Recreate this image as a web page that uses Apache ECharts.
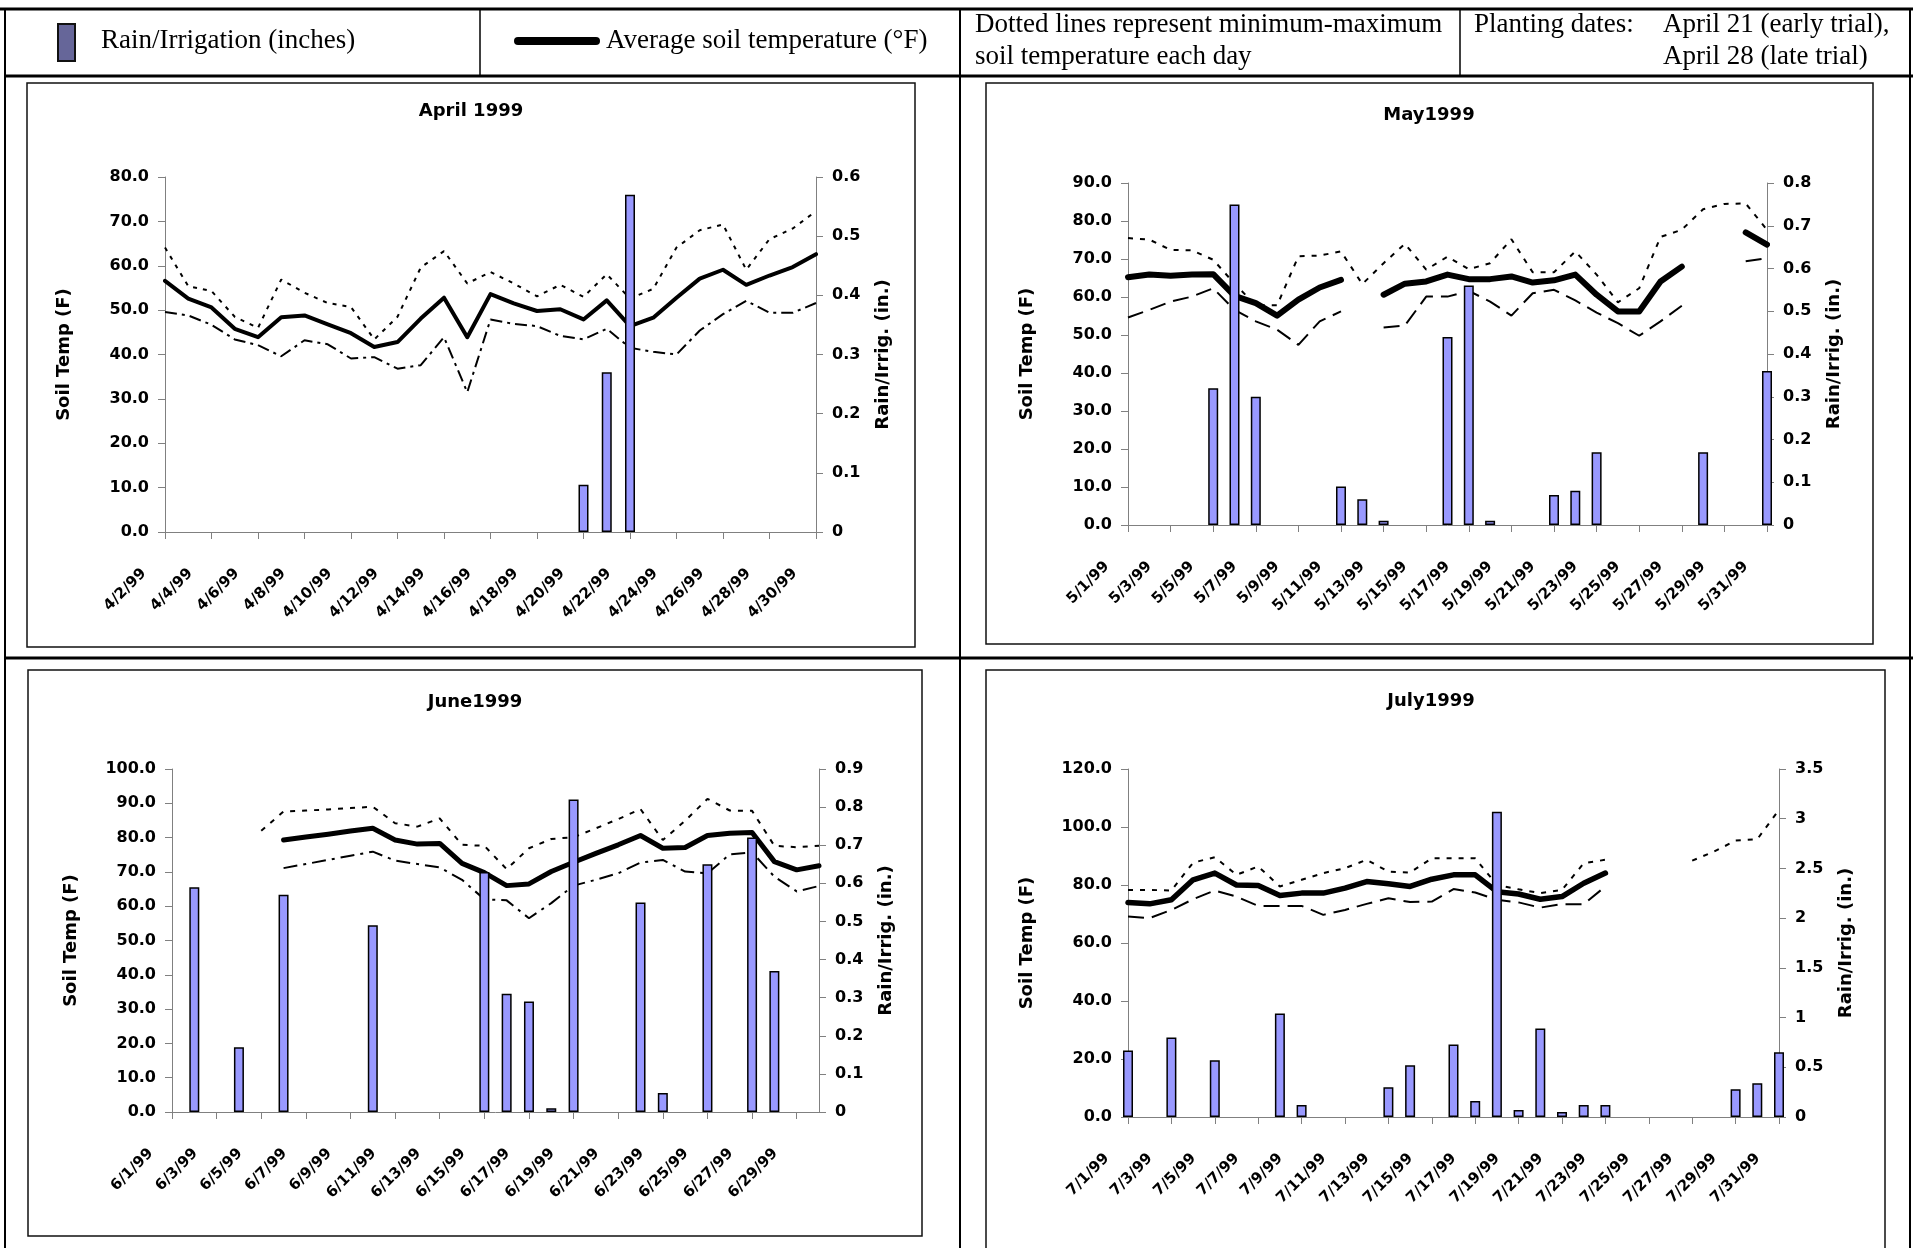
<!DOCTYPE html>
<html>
<head>
<meta charset="utf-8">
<title>Soil temperature and rain 1999</title>
<script src="https://cdn.jsdelivr.net/npm/echarts@6/dist/echarts.min.js"></script>
<style>
  html, body { margin: 0; padding: 0; background: #fff; }
  #chart { width: 1913px; height: 1248px; }
</style>
</head>
<body>
<div id="chart"></div>
<script>
// ---- April 1999 (4/2 .. 4/30) ----
const aprDays = ['4/2/99', '4/3/99', '4/4/99', '4/5/99', '4/6/99', '4/7/99', '4/8/99', '4/9/99', '4/10/99', '4/11/99',
  '4/12/99', '4/13/99', '4/14/99', '4/15/99', '4/16/99', '4/17/99', '4/18/99', '4/19/99', '4/20/99', '4/21/99',
  '4/22/99', '4/23/99', '4/24/99', '4/25/99', '4/26/99', '4/27/99', '4/28/99', '4/29/99', '4/30/99']
const aprAvg = [56.6, 52.6, 50.6, 45.8, 43.9, 48.4, 48.8, 46.8, 44.8, 41.7, 42.8, 48.1, 52.8, 43.9, 53.6,
  51.5, 49.8, 50.2, 47.9, 52.2, 46.4, 48.3, 52.8, 57.1, 59.1, 55.7, 57.8, 59.7, 62.6]
const aprMax = [64.1, 55.4, 54.3, 48.5, 46.0, 56.9, 53.9, 51.6, 50.7, 43.4, 48.5, 59.6, 63.3, 56.0, 58.6,
  56.0, 53.1, 55.7, 53.0, 58.1, 52.6, 54.8, 64.1, 68.0, 69.3, 59.1, 66.0, 68.4, 72.3]
const aprMin = [49.6, 48.8, 46.7, 43.4, 42.1, 39.6, 43.2, 42.3, 39.1, 39.4, 36.8, 37.6, 43.9, 31.5, 47.9,
  46.9, 46.4, 44.2, 43.4, 45.8, 41.5, 40.6, 40.0, 45.4, 49.1, 52.1, 49.4, 49.4, 51.6]
const aprRain = [null, null, null, null, null, null, null, null, null, null, null, null, null, null, null,
  null, null, null, 0.08, 0.27, 0.57, null, null, null, null, null, null, null, null]

// ---- May 1999 ----
const mayDays = ['5/1/99', '5/2/99', '5/3/99', '5/4/99', '5/5/99', '5/6/99', '5/7/99', '5/8/99', '5/9/99', '5/10/99',
  '5/11/99', '5/12/99', '5/13/99', '5/14/99', '5/15/99', '5/16/99', '5/17/99', '5/18/99', '5/19/99', '5/20/99',
  '5/21/99', '5/22/99', '5/23/99', '5/24/99', '5/25/99', '5/26/99', '5/27/99', '5/28/99', '5/29/99', '5/30/99', '5/31/99']
const mayAvg = [65.2, 65.9, 65.6, 65.9, 66.0, 60.3, 58.4, 55.1, 59.3, 62.5, 64.5, null, 60.6, 63.5, 64.1,
  65.9, 64.7, 64.7, 65.4, 63.8, 64.4, 65.9, 60.6, 56.2, 56.2, 64.1, 68.0, null, null, 77.0, 73.8]
const mayMax = [75.5, 75.1, 72.4, 72.3, 69.8, 63.5, 57.8, 57.8, 70.7, 70.9, 72.0, 63.4, 68.9, 74.0, 67.2,
  70.6, 67.3, 68.9, 75.2, 66.5, 66.5, 72.0, 65.9, 58.6, 62.3, 75.8, 77.7, 83.1, 84.5, 84.6, 77.7]
const mayMin = [54.6, 56.6, 58.8, 60.1, 62.3, 56.6, 53.6, 51.4, 47.4, 53.6, 56.2, null, 52.0, 52.5, 60.1,
  60.1, 61.6, 58.8, 55.1, 61.0, 61.9, 59.1, 55.9, 53.1, 49.8, 53.6, 57.7, null, null, 69.4, 70.2]
const mayRain = [null, null, null, null, 0.32, 0.75, 0.30, null, null, null, 0.09, 0.06, 0.01, null, null,
  0.44, 0.56, 0.01, null, null, 0.07, 0.08, 0.17, null, null, null, null, 0.17, null, null, 0.36]

// ---- June 1999 ----
const junDays = ['6/1/99', '6/2/99', '6/3/99', '6/4/99', '6/5/99', '6/6/99', '6/7/99', '6/8/99', '6/9/99', '6/10/99',
  '6/11/99', '6/12/99', '6/13/99', '6/14/99', '6/15/99', '6/16/99', '6/17/99', '6/18/99', '6/19/99', '6/20/99',
  '6/21/99', '6/22/99', '6/23/99', '6/24/99', '6/25/99', '6/26/99', '6/27/99', '6/28/99', '6/29/99', '6/30/99']
const junAvg = [null, null, null, null, null, 79.3, 80.2, 81.0, 81.9, 82.7, 79.3, 78.1, 78.3, 72.5, 69.8,
  66.0, 66.5, 70.1, 72.8, 75.4, 77.9, 80.6, 76.9, 77.1, 80.6, 81.3, 81.5, 73.0, 70.6, 71.8]
const junMax = [null, null, null, null, 82.0, 87.6, 87.9, 88.2, 88.6, 89.0, 84.2, 83.2, 85.6, 77.9, 77.6,
  70.8, 76.9, 79.6, 80.1, 82.7, 85.4, 88.3, 79.3, 84.9, 91.3, 87.9, 87.8, 77.6, 77.2, 77.6]
const junMin = [null, null, null, null, null, 71.1, 72.3, 73.5, 74.7, 75.9, 73.3, 72.3, 71.3, 67.7, 62.0,
  61.7, 56.5, 60.9, 66.0, 67.7, 69.6, 72.7, 73.5, 70.1, 69.6, 75.1, 75.7, 68.6, 64.3, 65.9]
const junRain = [null, 0.59, null, 0.17, null, 0.57, null, null, null, 0.49, null, null, null, null, 0.63,
  0.31, 0.29, 0.01, 0.82, null, null, 0.55, 0.05, null, 0.65, null, 0.72, 0.37, null, null]

// ---- July 1999 ----
const julDays = ['7/1/99', '7/2/99', '7/3/99', '7/4/99', '7/5/99', '7/6/99', '7/7/99', '7/8/99', '7/9/99', '7/10/99',
  '7/11/99', '7/12/99', '7/13/99', '7/14/99', '7/15/99', '7/16/99', '7/17/99', '7/18/99', '7/19/99', '7/20/99',
  '7/21/99', '7/22/99', '7/23/99', '7/24/99', '7/25/99', '7/26/99', '7/27/99', '7/28/99', '7/29/99', '7/30/99', '7/31/99']
const julAvg = [74.0, 73.5, 74.9, 81.8, 84.1, 80.0, 79.8, 76.4, 77.2, 77.2, 78.9, 81.2, 80.4, 79.5, 82.0,
  83.5, 83.5, 77.7, 76.9, 75.1, 76.0, 80.6, 84.1, null, null, null, null, null, null, null, null]
const julMax = [78.3, 78.3, 78.1, 87.7, 89.6, 83.5, 86.4, 79.5, 81.8, 84.1, 85.8, 88.7, 84.6, 84.3, 89.2,
  89.2, 89.2, 80.0, 78.5, 77.2, 78.3, 87.5, 88.7, null, null, null, 88.4, 91.5, 95.3, 95.8, 105.9]
const julMin = [69.1, 68.6, 71.4, 75.1, 78.1, 76.0, 72.8, 72.8, 72.8, 69.7, 71.4, 73.5, 75.4, 74.1, 74.3,
  78.6, 77.4, 74.9, 74.0, 72.2, 73.4, 73.4, 79.5, null, null, null, null, null, null, null, null]
const julRain = [0.67, null, 0.80, null, 0.57, null, null, 1.04, 0.12, null, null, null, 0.30, 0.52, null,
  0.73, 0.16, 3.07, 0.07, 0.89, 0.05, 0.12, 0.12, null, null, null, null, null, 0.28, 0.34, 0.65]

const FONT = 'DejaVu Sans'
const SERIF = '"Liberation Serif", "Times New Roman", serif'
const AXIS_GREY = '#808080'

// layout of the four panels (pixel boxes)
const panels = [
  {
    title: 'April 1999', days: aprDays, avg: aprAvg, max: aprMax, min: aprMin, rain: aprRain,
    grid: { left: 165, top: 177, width: 651, height: 355 },
    box: [27, 83, 888, 564], titlePos: [471, 111],
    tMax: 80, tStep: 10, rMax: 0.6, rStep: 0.1,
    avgW: 4, maxDash: [4, 6], minDash: [12, 5, 3, 5]
  },
  {
    title: 'May1999', days: mayDays, avg: mayAvg, max: mayMax, min: mayMin, rain: mayRain,
    grid: { left: 1128, top: 183, width: 639, height: 342 },
    box: [986, 83, 887, 561], titlePos: [1429, 115],
    tMax: 90, tStep: 10, rMax: 0.8, rStep: 0.1,
    avgW: 6, maxDash: [5, 7], minDash: [16, 8]
  },
  {
    title: 'June1999', days: junDays, avg: junAvg, max: junMax, min: junMin, rain: junRain,
    grid: { left: 172, top: 769, width: 647, height: 343 },
    box: [28, 670, 894, 566], titlePos: [475, 702],
    tMax: 100, tStep: 10, rMax: 0.9, rStep: 0.1,
    avgW: 5, maxDash: [5, 7], minDash: [14, 6, 3, 6]
  },
  {
    title: 'July1999', days: julDays, avg: julAvg, max: julMax, min: julMin, rain: julRain,
    grid: { left: 1128, top: 769, width: 651, height: 348 },
    box: [986, 670, 899, 600], titlePos: [1431, 701],
    tMax: 120, tStep: 20, rMax: 3.5, rStep: 0.5,
    avgW: 5.5, maxDash: [5, 7], minDash: [16, 8]
  }
]

const boldText = (size) => ({ fontFamily: FONT, fontWeight: 'bold', fontSize: size, color: '#000' })

const grids = []
const xAxes = []
const yAxes = []
const series = []
const graphics = []

panels.forEach((p, i) => {
  grids.push(p.grid)

  xAxes.push({
    type: 'category',
    gridIndex: i,
    data: p.days,
    boundaryGap: false,
    axisLine: { show: true, onZero: false, lineStyle: { color: AXIS_GREY, width: 1 } },
    axisTick: { show: true, interval: 1, length: 7, lineStyle: { color: AXIS_GREY } },
    axisLabel: {
      interval: 1, rotate: 45, margin: 18, padding: [0, 30, 0, 0],
      ...boldText(15)
    },
    splitLine: { show: false }
  })

  yAxes.push({
    type: 'value',
    gridIndex: i,
    position: 'left',
    min: 0, max: p.tMax, interval: p.tStep,
    name: 'Soil Temp (F)', nameLocation: 'middle', nameRotate: 90, nameGap: 92,
    nameTextStyle: boldText(18),
    axisLine: { show: true, lineStyle: { color: AXIS_GREY, width: 1 } },
    axisTick: { show: true, length: 7, lineStyle: { color: AXIS_GREY } },
    axisLabel: { margin: 16, formatter: (v) => v.toFixed(1), ...boldText(16) },
    splitLine: { show: false }
  })
  yAxes.push({
    type: 'value',
    gridIndex: i,
    position: 'right',
    min: 0, max: p.rMax, interval: p.rStep,
    name: 'Rain/Irrig. (in.)', nameLocation: 'middle', nameRotate: 90, nameGap: 58,
    nameTextStyle: boldText(18),
    axisLine: { show: true, lineStyle: { color: AXIS_GREY, width: 1 } },
    axisTick: { show: true, length: 7, lineStyle: { color: AXIS_GREY } },
    axisLabel: { margin: 16, ...boldText(16) },
    splitLine: { show: false }
  })

  const tIdx = i * 2
  const rIdx = i * 2 + 1

  series.push({
    name: 'Rain/Irrigation', type: 'bar', xAxisIndex: i, yAxisIndex: rIdx,
    data: p.rain, barWidth: 10, clip: true, z: 4,
    itemStyle: { color: '#9999ff', borderColor: '#000', borderWidth: 1.5 }
  })
  series.push({
    name: 'Max', type: 'line', xAxisIndex: i, yAxisIndex: tIdx,
    data: p.max, symbol: 'none', connectNulls: false, z: 2,
    lineStyle: { color: '#000', width: 2, type: p.maxDash }
  })
  series.push({
    name: 'Min', type: 'line', xAxisIndex: i, yAxisIndex: tIdx,
    data: p.min, symbol: 'none', connectNulls: false, z: 2,
    lineStyle: { color: '#000', width: 2, type: p.minDash }
  })
  series.push({
    name: 'Average', type: 'line', xAxisIndex: i, yAxisIndex: tIdx,
    data: p.avg, symbol: 'none', connectNulls: false, z: 3,
    lineStyle: { color: '#000', width: p.avgW, cap: 'round', join: 'round' }
  })

  // panel frame and title
  graphics.push({
    type: 'rect', silent: true, z: -1,
    shape: { x: p.box[0], y: p.box[1], width: p.box[2], height: p.box[3] },
    style: { fill: 'none', stroke: '#111', lineWidth: 1.5 }
  })
  graphics.push({
    type: 'text', silent: true,
    x: p.titlePos[0], y: p.titlePos[1],
    style: {
      text: p.title, font: 'bold 18px "DejaVu Sans"', fill: '#000',
      textAlign: 'center', textVerticalAlign: 'middle', align: 'center', verticalAlign: 'middle'
    }
  })
})

// table rules around the header and the four cells
const rule = (x1, y1, x2, y2, w) => ({
  type: 'line', silent: true, shape: { x1, y1, x2, y2 }, style: { stroke: '#000', lineWidth: w }
})
graphics.push(
  rule(0, 9, 1913, 9, 3),
  rule(5, 76, 1913, 76, 3),
  rule(5, 658, 1913, 658, 3),
  rule(5, 9, 5, 1248, 2),
  rule(1910, 9, 1910, 1248, 2),
  rule(480, 9, 480, 76, 1.5),
  rule(960, 9, 960, 1248, 2),
  rule(1460, 9, 1460, 76, 1.5)
)

// header legend cells
const headerText = (x, y, text) => ({
  type: 'text', silent: true, x, y,
  style: {
    text, font: '27px ' + SERIF, fill: '#000',
    textAlign: 'left', textVerticalAlign: 'middle', align: 'left', verticalAlign: 'middle'
  }
})
graphics.push(
  {
    type: 'rect', silent: true,
    shape: { x: 58, y: 24, width: 17, height: 37 },
    style: { fill: '#666699', stroke: '#111', lineWidth: 2 }
  },
  headerText(101, 41, 'Rain/Irrigation (inches)'),
  {
    type: 'line', silent: true,
    shape: { x1: 518, y1: 41, x2: 596, y2: 41 },
    style: { stroke: '#000', lineWidth: 8, lineCap: 'round' }
  },
  headerText(606, 41, 'Average soil temperature (°F)'),
  headerText(975, 25, 'Dotted lines represent minimum-maximum'),
  headerText(975, 57, 'soil temperature each day'),
  headerText(1474, 25, 'Planting dates:'),
  headerText(1663, 25, 'April 21 (early trial),'),
  headerText(1663, 57, 'April 28 (late trial)')
)

const chart = echarts.init(document.getElementById('chart'), null, { renderer: 'canvas' })
chart.setOption({
  backgroundColor: '#fff',
  animation: false,
  grid: grids,
  xAxis: xAxes,
  yAxis: yAxes,
  series: series,
  graphic: { elements: graphics }
})
</script>
</body>
</html>
